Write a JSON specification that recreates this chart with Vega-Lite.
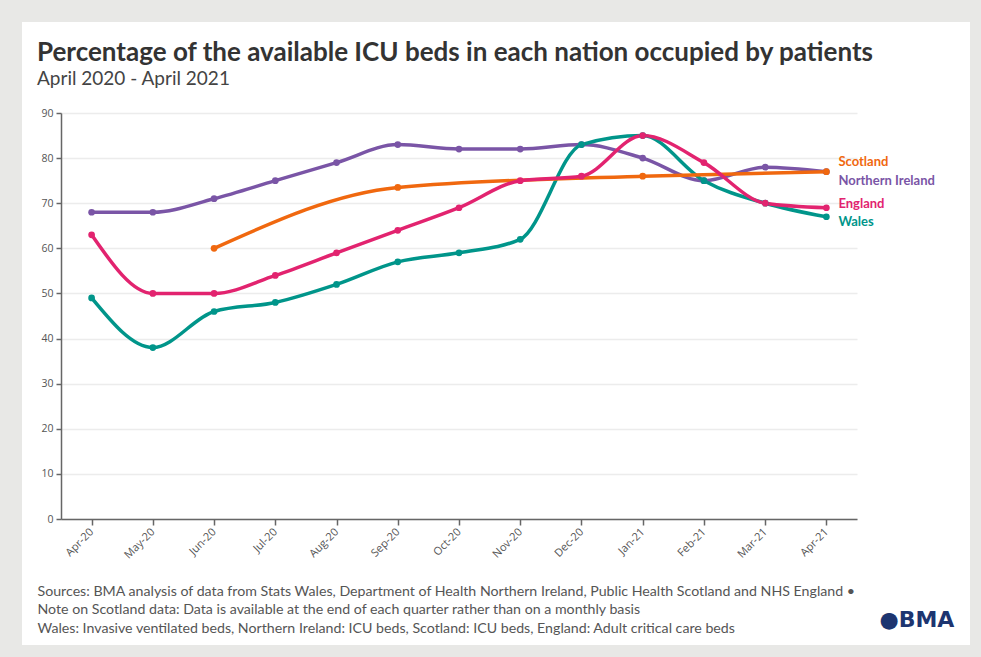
{
  "$schema": "https://vega.github.io/schema/vega-lite/v6.json",
  "width": 948,
  "height": 623,
  "autosize": {"type": "none"},
  "padding": {"left": 22, "top": 22, "right": 11, "bottom": 12},
  "background": "#e8e8e6",
  "config": {"view": {"fill": "white", "stroke": null}, "font": "Lato"},
  "title": {
    "text": "Percentage of the available ICU beds in each nation occupied by patients",
    "subtitle": "April 2020 - April 2021",
    "anchor": "start",
    "frame": "group",
    "dx": 15,
    "offset": -67,
    "font": "Lato",
    "fontSize": 26,
    "fontWeight": "bold",
    "color": "#333333",
    "subtitleFont": "Lato",
    "subtitleFontSize": 19,
    "subtitleColor": "#444444",
    "subtitlePadding": 4
  },
  "data": {
    "values": [
      {"month": "Apr-20", "nation": "Northern Ireland", "value": 68},
      {"month": "May-20", "nation": "Northern Ireland", "value": 68},
      {"month": "Jun-20", "nation": "Northern Ireland", "value": 71},
      {"month": "Jul-20", "nation": "Northern Ireland", "value": 75},
      {"month": "Aug-20", "nation": "Northern Ireland", "value": 79},
      {"month": "Sep-20", "nation": "Northern Ireland", "value": 83},
      {"month": "Oct-20", "nation": "Northern Ireland", "value": 82},
      {"month": "Nov-20", "nation": "Northern Ireland", "value": 82},
      {"month": "Dec-20", "nation": "Northern Ireland", "value": 83},
      {"month": "Jan-21", "nation": "Northern Ireland", "value": 80},
      {"month": "Feb-21", "nation": "Northern Ireland", "value": 75},
      {"month": "Mar-21", "nation": "Northern Ireland", "value": 78},
      {"month": "Apr-21", "nation": "Northern Ireland", "value": 77},
      {"month": "Apr-20", "nation": "Wales", "value": 49},
      {"month": "May-20", "nation": "Wales", "value": 38},
      {"month": "Jun-20", "nation": "Wales", "value": 46},
      {"month": "Jul-20", "nation": "Wales", "value": 48},
      {"month": "Aug-20", "nation": "Wales", "value": 52},
      {"month": "Sep-20", "nation": "Wales", "value": 57},
      {"month": "Oct-20", "nation": "Wales", "value": 59},
      {"month": "Nov-20", "nation": "Wales", "value": 62},
      {"month": "Dec-20", "nation": "Wales", "value": 83},
      {"month": "Jan-21", "nation": "Wales", "value": 85},
      {"month": "Feb-21", "nation": "Wales", "value": 75},
      {"month": "Mar-21", "nation": "Wales", "value": 70},
      {"month": "Apr-21", "nation": "Wales", "value": 67},
      {"month": "Jun-20", "nation": "Scotland", "value": 60},
      {"month": "Sep-20", "nation": "Scotland", "value": 73.5},
      {"month": "Jan-21", "nation": "Scotland", "value": 76},
      {"month": "Apr-21", "nation": "Scotland", "value": 77},
      {"month": "Apr-20", "nation": "England", "value": 63},
      {"month": "May-20", "nation": "England", "value": 50},
      {"month": "Jun-20", "nation": "England", "value": 50},
      {"month": "Jul-20", "nation": "England", "value": 54},
      {"month": "Aug-20", "nation": "England", "value": 59},
      {"month": "Sep-20", "nation": "England", "value": 64},
      {"month": "Oct-20", "nation": "England", "value": 69},
      {"month": "Nov-20", "nation": "England", "value": 75},
      {"month": "Dec-20", "nation": "England", "value": 76},
      {"month": "Jan-21", "nation": "England", "value": 85},
      {"month": "Feb-21", "nation": "England", "value": 79},
      {"month": "Mar-21", "nation": "England", "value": 70},
      {"month": "Apr-21", "nation": "England", "value": 69}
    ]
  },
  "encoding": {
    "x": {
      "field": "month",
      "type": "ordinal",
      "scale": {
        "type": "point",
        "domain": ["Apr-20", "May-20", "Jun-20", "Jul-20", "Aug-20", "Sep-20", "Oct-20", "Nov-20", "Dec-20", "Jan-21", "Feb-21", "Mar-21", "Apr-21"],
        "range": [39, 835],
        "padding": 0.5
      },
      "axis": {
        "title": [
          "Sources: BMA analysis of data from Stats Wales, Department of Health Northern Ireland, Public Health Scotland and NHS England •",
          "Note on Scotland data: Data is available at the end of each quarter rather than on a monthly basis",
          "Wales: Invasive ventilated beds, Northern Ireland: ICU beds, Scotland: ICU beds, England: Adult critical care beds"
        ],
        "titleAnchor": "start",
        "titleAlign": "left",
        "titleBaseline": "alphabetic",
        "titleX": 15,
        "titleY": 76,
        "titleFont": "Lato",
        "titleFontSize": 14.2,
        "titleFontWeight": "normal",
        "titleColor": "#555555",
        "titleLineHeight": 18.5,
        "offset": -126,
        "labelAngle": -45,
        "labelAlign": "right",
        "labelBaseline": "middle",
        "labelFont": "Open Sans",
        "labelFontSize": 11,
        "labelColor": "#555555",
        "labelPadding": 5,
        "domainColor": "#666666",
        "domainWidth": 1.5,
        "tickColor": "#666666",
        "tickSize": 6,
        "tickWidth": 1.5,
        "grid": false
      }
    },
    "y": {
      "field": "value",
      "type": "quantitative",
      "scale": {"domain": [0, 90], "range": [497, 91], "nice": false, "zero": true},
      "axis": {
        "values": [0, 10, 20, 30, 40, 50, 60, 70, 80, 90],
        "title": "●BMA",
        "titleAngle": 0,
        "titleAlign": "left",
        "titleBaseline": "alphabetic",
        "titleX": 818,
        "titleY": 604,
        "titleFont": "DejaVu Sans",
        "titleFontSize": 22,
        "titleFontWeight": "bold",
        "titleColor": "#1d3570",
        "offset": -39,
        "labelFont": "Open Sans",
        "labelFontSize": 10.5,
        "labelColor": "#555555",
        "labelPadding": 3,
        "domainColor": "#666666",
        "domainWidth": 1.5,
        "tickColor": "#666666",
        "tickSize": 5,
        "tickWidth": 1.5,
        "grid": true,
        "gridColor": "#ececec",
        "gridWidth": 1.5
      }
    },
    "color": {
      "field": "nation",
      "type": "nominal",
      "scale": {
        "domain": ["Scotland", "Northern Ireland", "England", "Wales"],
        "range": ["#f0680f", "#7a55a6", "#e2236f", "#00958a"]
      },
      "legend": null
    }
  },
  "layer": [
    {
      "mark": {"type": "line", "interpolate": "monotone", "strokeWidth": 3.5, "point": {"filled": true, "size": 45}}
    },
    {
      "transform": [{"filter": "datum.month === 'Apr-21' && datum.nation === 'Scotland'"}],
      "mark": {"type": "text", "align": "left", "baseline": "middle", "dx": 12, "dy": -10, "fontSize": 13, "fontWeight": "bold", "font": "Lato"},
      "encoding": {"text": {"field": "nation"}}
    },
    {
      "transform": [{"filter": "datum.month === 'Apr-21' && datum.nation === 'Northern Ireland'"}],
      "mark": {"type": "text", "align": "left", "baseline": "middle", "dx": 12, "dy": 9.5, "fontSize": 13, "fontWeight": "bold", "font": "Lato"},
      "encoding": {"text": {"field": "nation"}}
    },
    {
      "transform": [{"filter": "datum.month === 'Apr-21' && datum.nation === 'England'"}],
      "mark": {"type": "text", "align": "left", "baseline": "middle", "dx": 12, "dy": -4, "fontSize": 13, "fontWeight": "bold", "font": "Lato"},
      "encoding": {"text": {"field": "nation"}}
    },
    {
      "transform": [{"filter": "datum.month === 'Apr-21' && datum.nation === 'Wales'"}],
      "mark": {"type": "text", "align": "left", "baseline": "middle", "dx": 12, "dy": 5, "fontSize": 13, "fontWeight": "bold", "font": "Lato"},
      "encoding": {"text": {"field": "nation"}}
    }
  ]
}
